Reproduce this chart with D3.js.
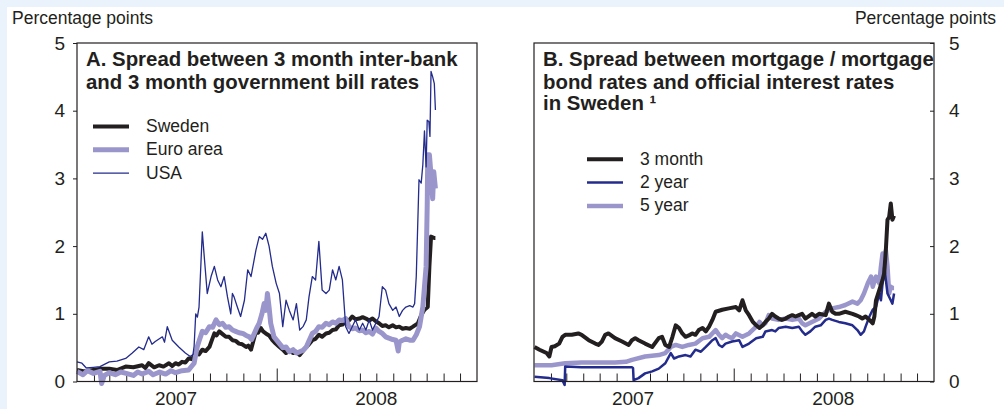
<!DOCTYPE html>
<html>
<head>
<meta charset="utf-8">
<script src="https://cdn.jsdelivr.net/npm/d3@7"></script>
<style>
  html, body { margin: 0; padding: 0; background: #eaf2fc; }
  svg { display: block; font-family: "Liberation Sans", Arial, Helvetica, sans-serif; }
</style>
</head>
<body>
<svg id="chart" width="1004" height="409"></svg>
<script>
// ---- Tick labels and categories ----
const yTickValues = [0, 1, 2, 3, 4, 5];
const yearLabels = ["2007", "2008"];
const axisTitle = "Percentage points";

const titleA = ["A. Spread between 3 month inter-bank", "and 3 month government bill rates"];
const titleB = ["B. Spread between mortgage / mortgage", "bond rates and official interest rates", "in Sweden \u00b9"];
const legendA = ["Sweden", "Euro area", "USA"];
const legendB = ["3 month", "2 year", "5 year"];

// ---- Panel A: 3-month inter-bank minus 3-month government bill, percentage points ----
const sweden = [
  ["2007-01-01",0.17],["2007-01-15",0.15],["2007-01-31",0.17],["2007-02-14",0.19],["2007-03-01",0.19],
  ["2007-03-15",0.17],["2007-03-31",0.22],["2007-04-14",0.21],["2007-04-30",0.24],["2007-05-06",0.20],
  ["2007-05-12",0.27],["2007-05-22",0.21],["2007-05-31",0.24],["2007-06-08",0.22],["2007-06-18",0.27],
  ["2007-06-24",0.23],["2007-06-30",0.27],["2007-07-06",0.25],["2007-07-12",0.29],["2007-07-18",0.28],
  ["2007-07-24",0.34],["2007-07-30",0.33],["2007-08-06",0.42],["2007-08-12",0.40],["2007-08-18",0.47],
  ["2007-08-24",0.45],["2007-08-31",0.51],["2007-09-04",0.60],["2007-09-09",0.71],["2007-09-13",0.68],
  ["2007-09-18",0.74],["2007-09-24",0.70],["2007-09-30",0.66],["2007-10-06",0.66],["2007-10-12",0.61],
  ["2007-10-18",0.60],["2007-10-24",0.56],["2007-10-30",0.55],["2007-11-06",0.51],["2007-11-10",0.53],
  ["2007-11-15",0.47],["2007-11-20",0.62],["2007-11-24",0.74],["2007-11-28",0.72],["2007-12-03",0.79],
  ["2007-12-07",0.74],["2007-12-12",0.71],["2007-12-18",0.68],["2007-12-24",0.61],["2007-12-30",0.56],
  ["2008-01-06",0.51],["2008-01-12",0.47],["2008-01-18",0.42],["2008-01-24",0.45],["2008-01-31",0.42],
  ["2008-02-06",0.44],["2008-02-12",0.39],["2008-02-18",0.45],["2008-02-24",0.51],["2008-02-29",0.55],
  ["2008-03-06",0.61],["2008-03-12",0.63],["2008-03-18",0.69],["2008-03-24",0.66],["2008-03-31",0.71],
  ["2008-04-06",0.72],["2008-04-12",0.76],["2008-04-18",0.77],["2008-04-24",0.83],["2008-04-30",0.84],
  ["2008-05-06",0.88],["2008-05-12",0.90],["2008-05-18",0.96],["2008-05-24",0.92],["2008-05-31",0.93],
  ["2008-06-06",0.95],["2008-06-12",0.93],["2008-06-18",0.90],["2008-06-24",0.93],["2008-06-30",0.89],
  ["2008-07-06",0.86],["2008-07-12",0.82],["2008-07-18",0.83],["2008-07-24",0.80],["2008-07-31",0.83],
  ["2008-08-06",0.80],["2008-08-12",0.81],["2008-08-18",0.78],["2008-08-24",0.79],["2008-08-31",0.78],
  ["2008-09-06",0.81],["2008-09-15",0.86],["2008-09-21",0.98],["2008-09-27",1.06],["2008-10-03",1.10],
  ["2008-10-06",1.70],["2008-10-09",2.14],["2008-10-15",2.12],["2008-10-17",2.12]
];
const euroArea = [
  ["2007-01-01",0.15],["2007-01-12",0.10],["2007-01-20",0.16],["2007-01-31",0.12],["2007-02-12",0.15],
  ["2007-02-15",-0.03],["2007-02-20",0.09],["2007-03-01",0.13],["2007-03-12",0.10],["2007-03-22",0.14],
  ["2007-04-01",0.12],["2007-04-14",0.09],["2007-04-22",0.14],["2007-04-30",0.11],["2007-05-12",0.15],
  ["2007-05-20",0.10],["2007-06-01",0.14],["2007-06-12",0.11],["2007-06-22",0.16],["2007-06-30",0.13],
  ["2007-07-12",0.16],["2007-07-24",0.17],["2007-08-03",0.27],["2007-08-06",0.40],["2007-08-09",0.52],
  ["2007-08-13",0.62],["2007-08-18",0.74],["2007-08-24",0.72],["2007-08-31",0.81],["2007-09-06",0.80],
  ["2007-09-12",0.91],["2007-09-18",0.84],["2007-09-24",0.86],["2007-09-30",0.80],["2007-10-06",0.81],
  ["2007-10-12",0.76],["2007-10-18",0.74],["2007-10-24",0.72],["2007-10-31",0.71],["2007-11-06",0.68],
  ["2007-11-12",0.66],["2007-11-16",0.62],["2007-11-21",0.71],["2007-11-26",0.80],["2007-11-30",0.86],
  ["2007-12-05",1.00],["2007-12-09",1.15],["2007-12-12",1.05],["2007-12-15",1.30],["2007-12-18",1.10],
  ["2007-12-21",0.86],["2007-12-27",0.66],["2008-01-02",0.60],["2008-01-06",0.56],["2008-01-12",0.50],
  ["2008-01-18",0.51],["2008-01-24",0.44],["2008-01-31",0.47],["2008-02-06",0.42],["2008-02-12",0.44],
  ["2008-02-18",0.46],["2008-02-24",0.51],["2008-02-29",0.60],["2008-03-06",0.71],["2008-03-12",0.74],
  ["2008-03-18",0.81],["2008-03-24",0.80],["2008-03-31",0.86],["2008-04-06",0.84],["2008-04-12",0.88],
  ["2008-04-18",0.86],["2008-04-24",0.91],["2008-04-30",0.90],["2008-05-06",0.93],["2008-05-12",0.81],
  ["2008-05-18",0.78],["2008-05-24",0.79],["2008-05-31",0.75],["2008-06-06",0.76],["2008-06-12",0.72],
  ["2008-06-18",0.74],["2008-06-24",0.70],["2008-06-30",0.79],["2008-07-06",0.74],["2008-07-12",0.71],
  ["2008-07-18",0.66],["2008-07-24",0.64],["2008-07-31",0.62],["2008-08-06",0.61],["2008-08-10",0.45],
  ["2008-08-12",0.58],["2008-08-18",0.61],["2008-08-24",0.63],["2008-08-31",0.61],["2008-09-06",0.61],
  ["2008-09-12",0.69],["2008-09-18",0.81],["2008-09-24",1.10],["2008-09-30",1.70],["2008-10-02",2.60],
  ["2008-10-03",3.35],["2008-10-06",3.35],["2008-10-09",3.05],["2008-10-12",2.70],["2008-10-14",3.10],
  ["2008-10-17",2.85]
];
const usa = [
  ["2007-01-01",0.29],["2007-01-10",0.27],["2007-01-18",0.20],["2007-01-31",0.21],["2007-02-12",0.22],
  ["2007-03-01",0.29],["2007-03-15",0.30],["2007-03-31",0.34],["2007-04-12",0.42],["2007-04-24",0.51],
  ["2007-05-03",0.47],["2007-05-12",0.66],["2007-05-18",0.55],["2007-05-24",0.59],["2007-06-06",0.66],
  ["2007-06-10",0.58],["2007-06-15",0.81],["2007-06-24",0.61],["2007-07-06",0.51],["2007-07-18",0.42],
  ["2007-07-27",0.37],["2007-08-01",0.40],["2007-08-03",0.52],["2007-08-06",1.00],["2007-08-09",0.95],
  ["2007-08-12",1.10],["2007-08-18",2.21],["2007-08-21",1.90],["2007-08-27",1.30],["2007-09-03",1.55],
  ["2007-09-09",1.70],["2007-09-15",1.50],["2007-09-21",1.40],["2007-09-27",1.55],["2007-10-03",1.25],
  ["2007-10-09",1.00],["2007-10-12",1.30],["2007-10-15",1.25],["2007-10-21",1.10],["2007-10-27",0.96],
  ["2007-11-03",1.20],["2007-11-09",1.65],["2007-11-15",1.55],["2007-11-24",1.94],["2007-11-30",2.14],
  ["2007-12-06",2.10],["2007-12-12",2.19],["2007-12-18",2.00],["2007-12-24",1.70],["2007-12-31",1.45],
  ["2008-01-06",1.30],["2008-01-12",0.81],["2008-01-18",1.20],["2008-01-24",1.05],["2008-01-31",0.91],
  ["2008-02-06",1.15],["2008-02-12",0.76],["2008-02-18",0.81],["2008-02-24",0.91],["2008-02-29",1.25],
  ["2008-03-06",1.55],["2008-03-12",1.50],["2008-03-18",2.07],["2008-03-24",1.35],["2008-03-31",1.30],
  ["2008-04-06",1.35],["2008-04-12",1.65],["2008-04-18",1.50],["2008-04-24",1.70],["2008-04-30",1.50],
  ["2008-05-06",0.81],["2008-05-12",0.71],["2008-05-18",0.81],["2008-05-24",0.91],["2008-05-31",0.76],
  ["2008-06-06",0.86],["2008-06-12",0.76],["2008-06-18",0.91],["2008-06-24",0.76],["2008-06-30",0.86],
  ["2008-07-06",0.96],["2008-07-12",1.40],["2008-07-18",1.35],["2008-07-24",1.15],["2008-07-31",1.05],
  ["2008-08-06",1.10],["2008-08-12",0.96],["2008-08-18",1.05],["2008-08-24",1.10],["2008-08-31",1.12],
  ["2008-09-06",1.10],["2008-09-09",1.15],["2008-09-12",1.55],["2008-09-17",2.98],["2008-09-21",2.93],
  ["2008-09-24",3.20],["2008-09-27",3.70],["2008-09-30",3.17],["2008-10-02",3.86],["2008-10-05",3.84],
  ["2008-10-07",3.62],["2008-10-09",4.58],["2008-10-12",4.50],["2008-10-15",4.40],["2008-10-17",4.01]
];

// ---- Panel B: mortgage / mortgage bond rates minus official rates, percentage points ----
const threeMonth = [
  ["2007-01-02",0.51],["2007-01-11",0.47],["2007-01-24",0.42],["2007-01-29",0.37],["2007-02-02",0.51],
  ["2007-02-08",0.52],["2007-02-16",0.56],["2007-02-22",0.66],["2007-02-27",0.69],["2007-03-11",0.69],
  ["2007-03-23",0.71],["2007-03-29",0.69],["2007-04-11",0.61],["2007-04-23",0.56],["2007-04-29",0.54],
  ["2007-05-05",0.59],["2007-05-11",0.69],["2007-05-17",0.71],["2007-05-29",0.64],["2007-06-11",0.59],
  ["2007-06-23",0.54],["2007-06-29",0.61],["2007-07-05",0.64],["2007-07-11",0.61],["2007-07-23",0.56],
  ["2007-08-05",0.51],["2007-08-17",0.64],["2007-08-23",0.66],["2007-08-29",0.54],["2007-09-05",0.51],
  ["2007-09-11",0.66],["2007-09-17",0.83],["2007-09-23",0.79],["2007-09-29",0.71],["2007-10-05",0.66],
  ["2007-10-11",0.68],["2007-10-17",0.71],["2007-10-23",0.69],["2007-10-29",0.76],["2007-11-05",0.79],
  ["2007-11-11",0.74],["2007-11-17",0.81],["2007-11-23",0.91],["2007-11-29",1.03],["2007-12-11",1.06],
  ["2007-12-23",1.08],["2008-01-05",1.10],["2008-01-11",1.05],["2008-01-17",1.20],["2008-01-23",1.05],
  ["2008-01-29",0.98],["2008-02-05",0.88],["2008-02-11",0.83],["2008-02-17",0.79],["2008-02-23",0.83],
  ["2008-02-28",0.88],["2008-03-05",0.93],["2008-03-11",1.00],["2008-03-17",0.96],["2008-03-23",0.93],
  ["2008-03-29",0.91],["2008-04-05",0.93],["2008-04-11",0.96],["2008-04-17",0.98],["2008-04-23",0.96],
  ["2008-04-29",0.98],["2008-05-05",1.00],["2008-05-11",0.93],["2008-05-23",1.00],["2008-05-29",0.96],
  ["2008-06-05",1.00],["2008-06-17",0.98],["2008-06-23",1.15],["2008-06-29",1.03],["2008-07-05",1.00],
  ["2008-07-11",1.00],["2008-07-23",1.03],["2008-08-05",1.00],["2008-08-11",0.98],["2008-08-17",0.96],
  ["2008-08-23",0.93],["2008-08-29",0.96],["2008-09-05",0.91],["2008-09-11",0.86],["2008-09-14",0.96],
  ["2008-09-17",1.20],["2008-09-23",1.35],["2008-09-29",1.50],["2008-10-02",1.60],["2008-10-05",1.94],
  ["2008-10-08",2.39],["2008-10-11",2.43],["2008-10-14",2.63],["2008-10-17",2.39],["2008-10-20",2.45]
];
const twoYear = [
  ["2007-01-02",0.07],["2007-01-29",0.05],["2007-02-22",0.02],["2007-02-26",-0.05],["2007-02-27",0.22],
  ["2007-03-29",0.21],["2007-04-29",0.21],["2007-05-29",0.21],["2007-06-29",0.21],["2007-07-01",0.20],
  ["2007-07-02",0.02],["2007-07-11",0.05],["2007-07-23",0.12],["2007-08-05",0.15],["2007-08-17",0.19],
  ["2007-08-29",0.27],["2007-09-08",0.42],["2007-09-14",0.34],["2007-09-23",0.37],["2007-10-05",0.39],
  ["2007-10-14",0.37],["2007-10-23",0.47],["2007-11-02",0.44],["2007-11-11",0.51],["2007-11-17",0.56],
  ["2007-11-23",0.61],["2007-11-29",0.64],["2007-12-05",0.54],["2007-12-11",0.51],["2007-12-17",0.56],
  ["2007-12-29",0.59],["2008-01-11",0.61],["2008-01-17",0.51],["2008-01-29",0.56],["2008-02-11",0.64],
  ["2008-02-23",0.66],["2008-02-28",0.74],["2008-03-11",0.76],["2008-03-17",0.74],["2008-03-23",0.79],
  ["2008-04-05",0.81],["2008-04-17",0.79],["2008-04-29",0.81],["2008-05-05",0.74],["2008-05-11",0.69],
  ["2008-05-20",0.74],["2008-05-29",0.81],["2008-06-08",0.83],["2008-06-17",0.91],["2008-06-23",0.93],
  ["2008-06-29",0.91],["2008-07-11",0.88],["2008-07-23",0.86],["2008-08-05",0.83],["2008-08-14",0.76],
  ["2008-08-20",0.69],["2008-08-26",0.74],["2008-08-29",0.81],["2008-09-05",0.96],["2008-09-11",1.06],
  ["2008-09-17",1.10],["2008-09-23",1.30],["2008-09-26",1.20],["2008-09-29",1.45],["2008-10-02",1.70],
  ["2008-10-05",1.50],["2008-10-08",1.30],["2008-10-14",1.20],["2008-10-17",1.15],["2008-10-20",1.30]
];
const fiveYear = [
  ["2007-01-02",0.24],["2007-02-02",0.24],["2007-02-27",0.27],["2007-03-29",0.28],["2007-04-29",0.28],
  ["2007-05-29",0.28],["2007-06-18",0.29],["2007-06-29",0.32],["2007-07-23",0.37],["2007-08-17",0.39],
  ["2007-08-29",0.42],["2007-09-08",0.51],["2007-09-17",0.54],["2007-09-29",0.51],["2007-10-11",0.54],
  ["2007-10-23",0.56],["2007-11-05",0.64],["2007-11-17",0.66],["2007-11-29",0.76],["2007-12-05",0.69],
  ["2007-12-11",0.64],["2007-12-17",0.69],["2007-12-23",0.66],["2007-12-29",0.64],["2008-01-05",0.71],
  ["2008-01-17",0.66],["2008-01-29",0.71],["2008-02-11",0.81],["2008-02-17",0.88],["2008-02-23",0.83],
  ["2008-02-28",0.86],["2008-03-05",0.98],["2008-03-11",0.93],["2008-03-23",0.91],["2008-04-05",0.93],
  ["2008-04-17",0.91],["2008-04-29",0.93],["2008-05-05",0.86],["2008-05-11",0.83],["2008-05-23",0.88],
  ["2008-06-05",0.93],["2008-06-17",1.03],["2008-06-29",1.08],["2008-07-11",1.10],["2008-07-23",1.13],
  ["2008-08-05",1.18],["2008-08-14",1.15],["2008-08-20",1.20],["2008-08-26",1.30],["2008-09-02",1.45],
  ["2008-09-08",1.55],["2008-09-11",1.40],["2008-09-17",1.55],["2008-09-23",1.45],["2008-09-26",1.70],
  ["2008-09-29",1.89],["2008-10-02",1.75],["2008-10-05",1.94],["2008-10-08",1.70],["2008-10-11",1.30],
  ["2008-10-14",1.40],["2008-10-17",1.38],["2008-10-20",1.38]
];

// ---- Styles ----
const ink = "#231f20";
const lavender = "#9a96cc";
const navy = "#232b8c";

const parse = d3.timeParse("%Y-%m-%d");
const svg = d3.select("#chart");

// white sheet inside the light blue page edge
svg.append("rect").attr("x", 7).attr("y", 7).attr("width", 1004 - 7).attr("height", 409 - 7).attr("fill", "#ffffff");

const plotTop = 43, plotBottom = 381.5, plotWidth = 400;
const domainX = [new Date(2007, 0, 1), new Date(2009, 0, 1)];

function drawPanel(cfg) {
  const x = d3.scaleTime().domain(domainX).range([cfg.left, cfg.left + plotWidth]);
  const y = d3.scaleLinear().domain([0, 5]).range([plotBottom, plotTop]);
  const g = svg.append("g");

  // monthly ticks pointing up from the bottom edge; longer at the turn of the year
  const months = d3.timeMonth.range(domainX[0], domainX[1]).slice(1);
  g.append("g").attr("transform", `translate(0,${plotBottom})`)
    .call(d3.axisBottom(x).tickValues(months).tickSizeInner(0).tickSizeOuter(0).tickFormat(""))
    .call(a => a.select(".domain").remove())
    .call(a => a.selectAll(".tick line")
      .attr("y2", d => d.getMonth() === 0 ? -13 : -8)
      .attr("stroke", ink).attr("stroke-width", 1));

  // year labels centred in each year
  g.selectAll(".year").data(yearLabels).join("text")
    .attr("x", d => x(new Date(+d, 6, 1)))
    .attr("y", 405)
    .attr("text-anchor", "middle")
    .attr("font-size", 19).attr("fill", ink)
    .text(d => d);

  // value axis
  const yAxis = cfg.side === "left"
    ? d3.axisLeft(y).tickValues(yTickValues).tickSizeInner(4).tickSizeOuter(0).tickPadding(8)
    : d3.axisRight(y).tickValues(yTickValues).tickSizeInner(-4).tickSizeOuter(0).tickPadding(15);
  yAxis.tickFormat(d3.format("d"));
  g.append("g").attr("transform", `translate(${cfg.side === "left" ? cfg.left : cfg.left + plotWidth},0)`)
    .call(yAxis)
    .call(a => a.select(".domain").remove())
    .call(a => a.selectAll(".tick line").attr("stroke", ink))
    .call(a => a.selectAll(".tick text").attr("font-size", 19).attr("fill", ink).attr("font-family", null));

  // series
  const line = d3.line().x(d => x(parse(d[0]))).y(d => y(d[1]));
  cfg.series.forEach(s => {
    g.append("path").datum(s.data)
      .attr("fill", "none").attr("stroke", s.color).attr("stroke-width", s.width)
      .attr("stroke-linejoin", "round").attr("stroke-linecap", "butt")
      .attr("d", line);
  });

  // frame
  g.append("rect").attr("x", cfg.left).attr("y", plotTop)
    .attr("width", plotWidth).attr("height", plotBottom - plotTop)
    .attr("fill", "none").attr("stroke", ink).attr("stroke-width", 1.2);

  // panel title
  const t = g.append("text").attr("font-weight", "bold").attr("font-size", 20.4).attr("fill", ink);
  cfg.title.forEach((ln, i) => {
    t.append("tspan").attr("x", cfg.left + 9).attr("y", cfg.titleY[i]).text(ln);
  });

  // legend
  const lg = g.append("g");
  cfg.legend.forEach((name, i) => {
    const s = cfg.series.find(v => v.name === name);
    const yy = cfg.legendY + i * 23.3;
    lg.append("line").attr("x1", cfg.legendX).attr("x2", cfg.legendX + 36)
      .attr("y1", yy).attr("y2", yy).attr("stroke", s.color).attr("stroke-width", s.legendWidth);
    lg.append("text").attr("x", cfg.legendX + 53).attr("y", yy + 5.5)
      .attr("font-size", 17.5).attr("fill", ink).text(name);
  });
}

drawPanel({
  left: 77, side: "left",
  title: titleA, titleY: [66, 89],
  legend: legendA, legendX: 93, legendY: 126.5,
  series: [
    { name: "Sweden", data: sweden, color: ink, width: 4, legendWidth: 4 },
    { name: "Euro area", data: euroArea, color: lavender, width: 5, legendWidth: 5 },
    { name: "USA", data: usa, color: navy, width: 1.3, legendWidth: 1.3 }
  ]
});

drawPanel({
  left: 534, side: "right",
  title: titleB, titleY: [66, 89, 110],
  legend: legendB, legendX: 587, legendY: 159.3,
  series: [
    { name: "5 year", data: fiveYear, color: lavender, width: 4.5, legendWidth: 4.5 },
    { name: "2 year", data: twoYear, color: navy, width: 2.5, legendWidth: 2.5 },
    { name: "3 month", data: threeMonth, color: ink, width: 4, legendWidth: 4 }
  ]
});

// unit captions
svg.append("text").attr("x", 12).attr("y", 24).attr("font-size", 17.5).attr("fill", ink).text(axisTitle);
svg.append("text").attr("x", 996).attr("y", 24).attr("text-anchor", "end").attr("font-size", 17.5).attr("fill", ink).text(axisTitle);
</script>
</body>
</html>
